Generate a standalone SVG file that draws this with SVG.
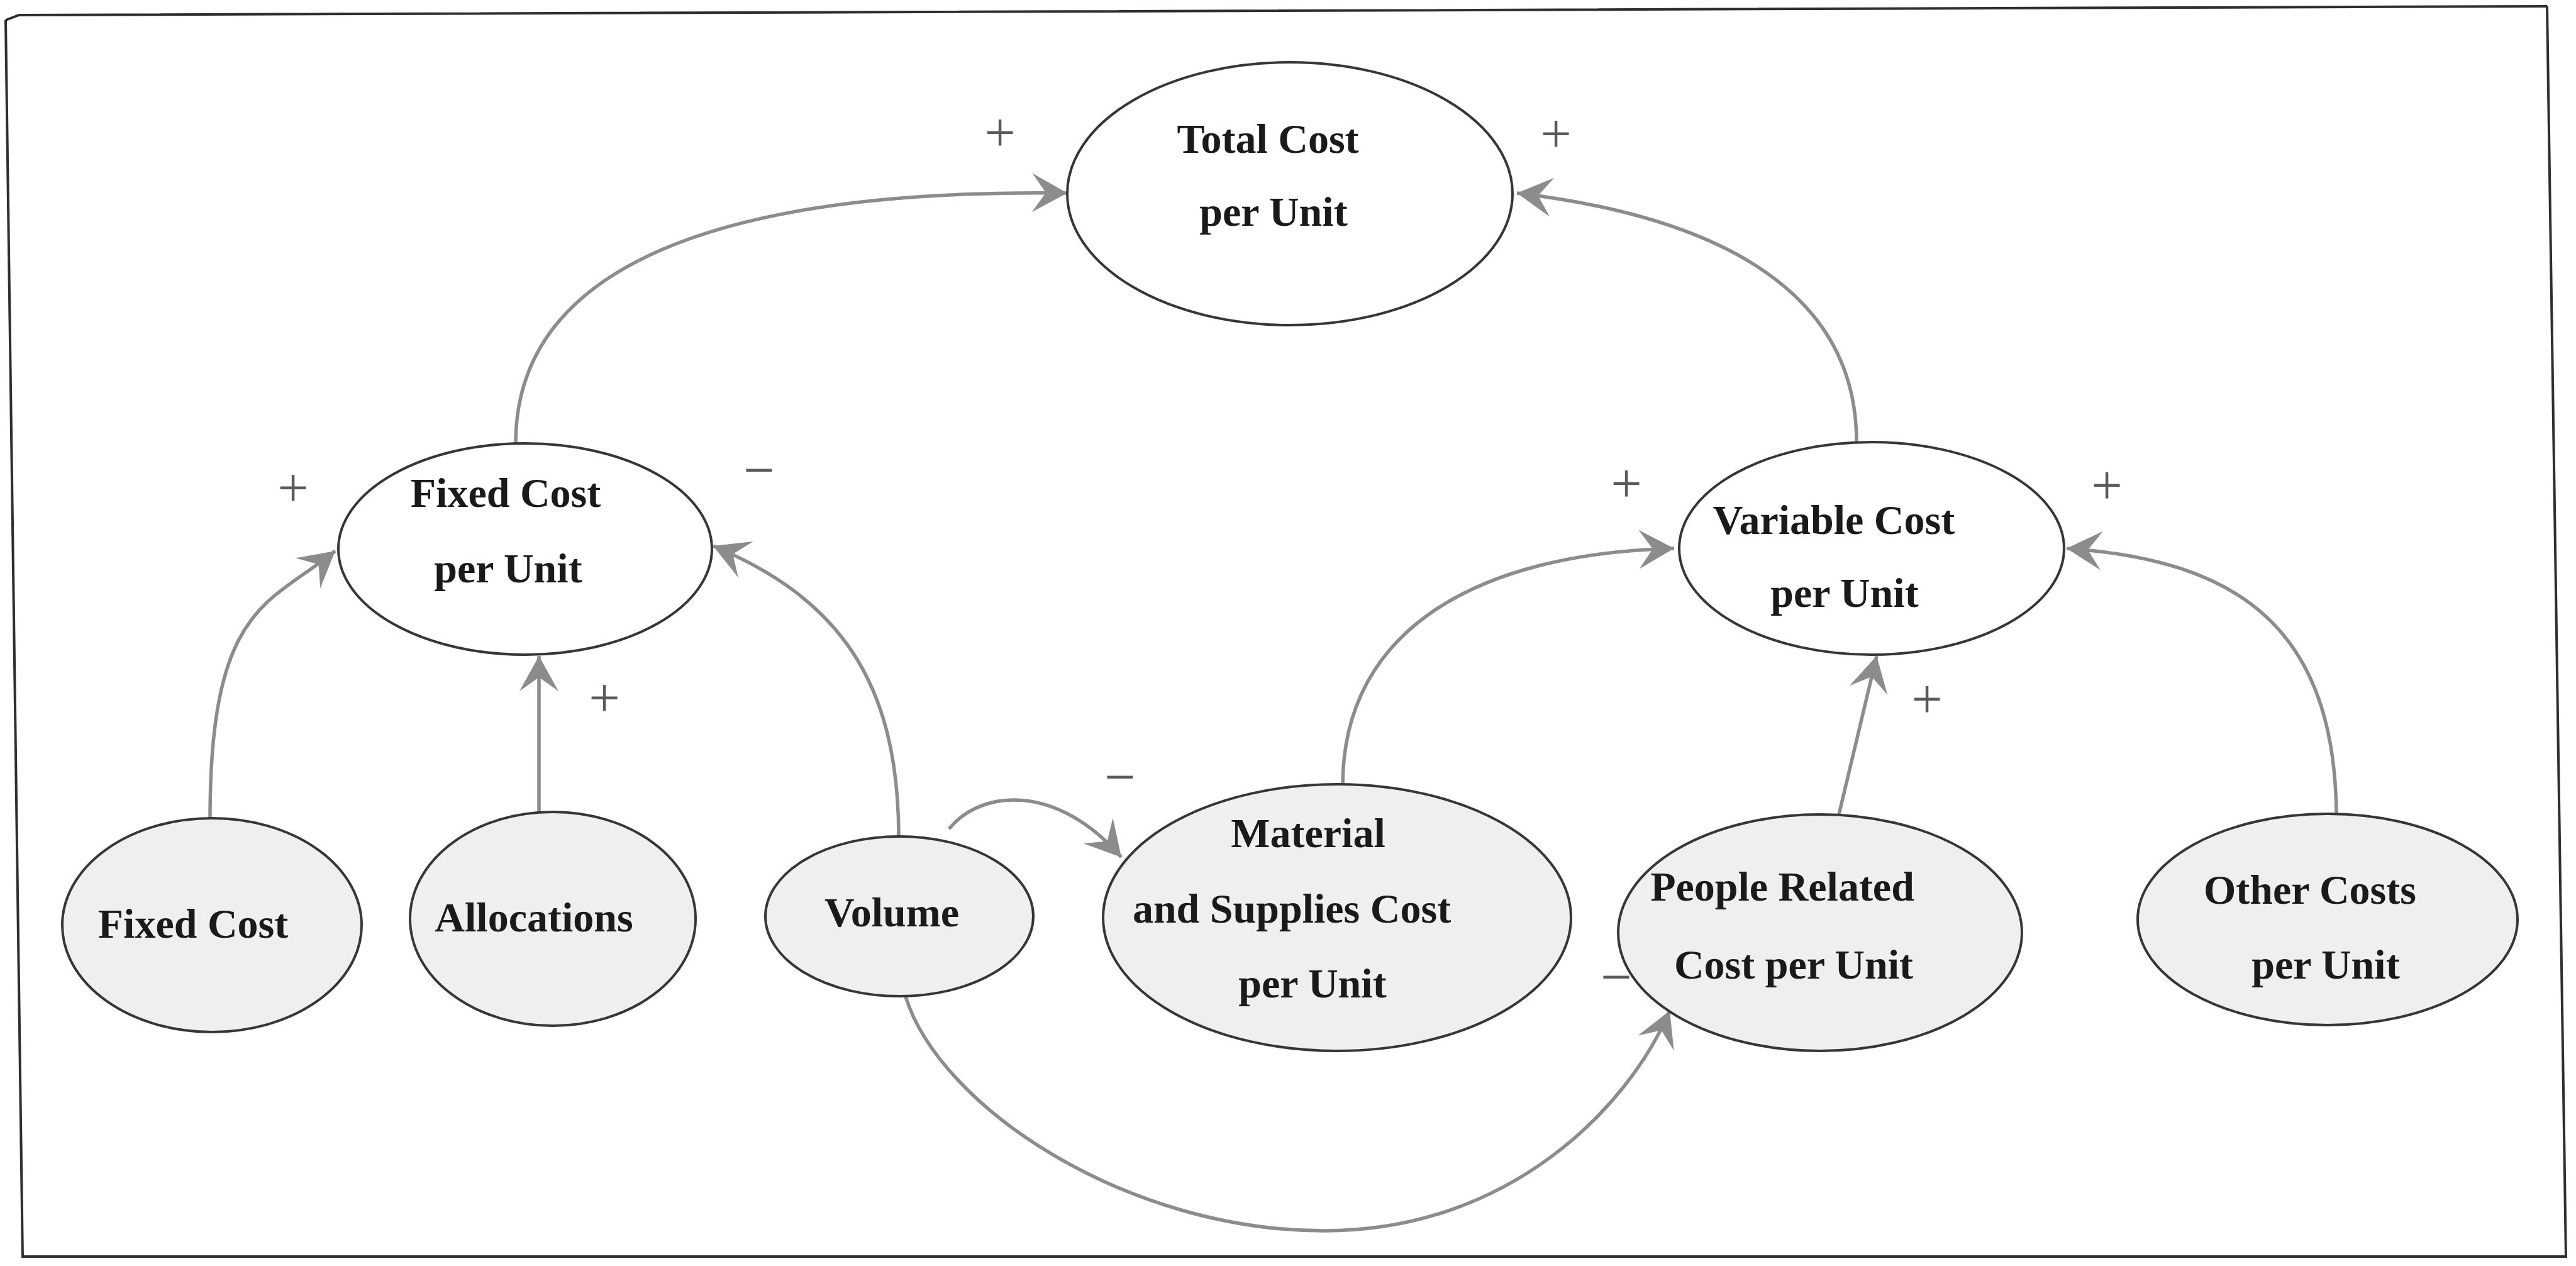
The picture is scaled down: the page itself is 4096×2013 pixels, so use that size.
<svg xmlns="http://www.w3.org/2000/svg" width="4096" height="2013" viewBox="0 0 4096 2013">
  <style>
    .node-in { fill: #ffffff; stroke: #363636; stroke-width: 4; }
    .node-src { fill: #efefef; stroke: #363636; stroke-width: 4; }
    .lbl { font-family: "Liberation Serif", "Times New Roman", serif; font-weight: bold; font-size: 66px; fill: #1a1a1a; text-anchor: middle; }
    .sign { font-family: "Liberation Serif", "Times New Roman", serif; font-size: 88px; fill: #5a5a5a; text-anchor: middle; }
    .link { fill: none; stroke: #8c8c8c; stroke-width: 5.5; marker-end: url(#head); }
    .frame { stroke: #2e2e2e; fill: none; stroke-width: 4; }
  </style>
  <defs>
    <marker id="head" viewBox="-58 -34 60 68" refX="0" refY="0" markerWidth="60" markerHeight="68" markerUnits="userSpaceOnUse" orient="auto">
      <path d="M0,0 L-56,-31 L-34,0 L-56,31 Z" fill="#8c8c8c"/>
    </marker>
  </defs>

  <rect x="0" y="0" width="4096" height="2013" fill="#ffffff"/>

  <!-- page frame (slightly skewed, as printed) -->
  <g id="frame">
    <path class="frame" d="M9,32 L30,24 L4050,10"/>
    <line class="frame" x1="9" y1="32" x2="36" y2="2000"/>
    <line class="frame" x1="4050" y1="10" x2="4080" y2="2000"/>
    <line class="frame" x1="34" y1="1998" x2="4082" y2="1998" stroke-width="5"/>
  </g>

  <!-- causal links -->
  <g id="connectors">
    <path class="link" d="M820,705 C820,420 1150,300 1697,307"/>
    <path class="link" d="M2952,703 C2952,440 2690,340 2412,307"/>
    <path class="link" d="M334,1301 C334,960 430,960 533,876"/>
    <path class="link" d="M857,1291 L857,1043"/>
    <path class="link" d="M1429,1331 C1429,1080 1330,950 1134,868"/>
    <path class="link" d="M1509,1318 C1560,1255 1680,1245 1783,1363"/>
    <path class="link" d="M2135,1249 C2135,1000 2350,880 2662,872"/>
    <path class="link" d="M2924,1295 L2984,1043"/>
    <path class="link" d="M3715,1294 C3712,1000 3560,890 3286,872"/>
    <path class="link" d="M1440,1585 C1495,1760 1790,1957 2106,1957 C2400,1957 2590,1760 2655,1607"/>
  </g>

  <!-- polarity signs -->
  <g id="signs">
    <text class="sign" x="1590" y="240">+</text>
    <text class="sign" x="2474" y="242">+</text>
    <text class="sign" x="466" y="805">+</text>
    <text class="sign" x="1207" y="777">−</text>
    <text class="sign" x="961" y="1139">+</text>
    <text class="sign" x="1781" y="1265">−</text>
    <text class="sign" x="2586" y="798">+</text>
    <text class="sign" x="3350" y="801">+</text>
    <text class="sign" x="3064" y="1141">+</text>
    <text class="sign" x="2570" y="1583">−</text>
  </g>

  <g id="total-cost-per-unit">
    <ellipse class="node-in" cx="2051" cy="308" rx="354" ry="209"/>
    <text class="lbl" x="2016" y="243">Total Cost</text>
    <text class="lbl" x="2025" y="359">per Unit</text>
  </g>

  <g id="fixed-cost-per-unit">
    <ellipse class="node-in" cx="835" cy="873" rx="297" ry="168"/>
    <text class="lbl" x="804" y="806">Fixed Cost</text>
    <text class="lbl" x="808" y="926">per Unit</text>
  </g>

  <g id="variable-cost-per-unit">
    <ellipse class="node-in" cx="2976" cy="872" rx="306" ry="169"/>
    <text class="lbl" x="2916" y="849">Variable Cost</text>
    <text class="lbl" x="2933" y="965">per Unit</text>
  </g>

  <g id="fixed-cost">
    <ellipse class="node-src" cx="337" cy="1471" rx="238" ry="170"/>
    <text class="lbl" x="307" y="1491">Fixed Cost</text>
  </g>

  <g id="allocations">
    <ellipse class="node-src" cx="879" cy="1461" rx="227" ry="170"/>
    <text class="lbl" x="849" y="1481">Allocations</text>
  </g>

  <g id="volume">
    <ellipse class="node-src" cx="1430" cy="1457" rx="213" ry="127"/>
    <text class="lbl" x="1418" y="1473">Volume</text>
  </g>

  <g id="material-supplies-cost-per-unit">
    <ellipse class="node-src" cx="2126" cy="1459" rx="372" ry="212"/>
    <text class="lbl" x="2080" y="1347">Material</text>
    <text class="lbl" x="2054" y="1467">and Supplies Cost</text>
    <text class="lbl" x="2087" y="1586">per Unit</text>
  </g>

  <g id="people-related-cost-per-unit">
    <ellipse class="node-src" cx="2894" cy="1483" rx="321" ry="188"/>
    <text class="lbl" x="2834" y="1432">People Related</text>
    <text class="lbl" x="2852" y="1556">Cost per Unit</text>
  </g>

  <g id="other-costs-per-unit">
    <ellipse class="node-src" cx="3701" cy="1462" rx="302" ry="168"/>
    <text class="lbl" x="3673" y="1437">Other Costs</text>
    <text class="lbl" x="3698" y="1556">per Unit</text>
  </g>
</svg>
